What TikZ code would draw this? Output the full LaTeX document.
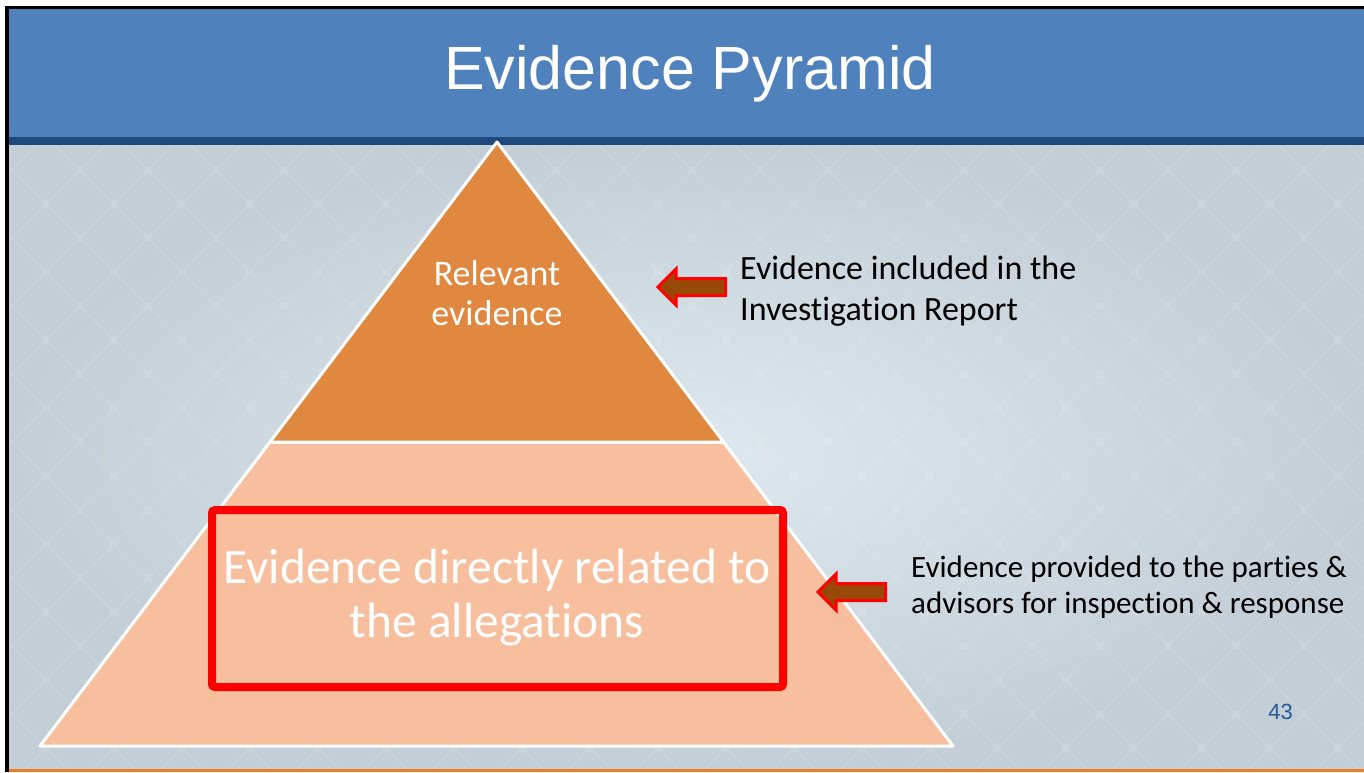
\documentclass[tikz,border=0pt]{standalone}
\usepackage{fontspec}
\setmainfont{Carlito}[Ligatures=NoCommon]
\newfontfamily\titlefont{Liberation Sans}
\usetikzlibrary{calc}
\definecolor{titleblue}{HTML}{4F81BD}
\definecolor{stripeblue}{HTML}{1F497D}
\definecolor{toporange}{HTML}{E0883F}
\definecolor{lowsalmon}{HTML}{F8BF9F}
\definecolor{arrowbrown}{HTML}{984807}
\definecolor{bgpale}{HTML}{DEE8EE}
\definecolor{bgdark}{HTML}{C4CED6}
\definecolor{barorange}{HTML}{F07D22}
\definecolor{numblue}{HTML}{2B5797}

\begin{document}
\begin{tikzpicture}[x=1pt,y=-1pt,
  layer/.style={draw=white,line width=3pt,line join=round},
  blockarr/.style={draw=red,fill=arrowbrown,line width=3pt,line join=miter},
  sidenote/.style={inner sep=0pt,align=left,anchor=west,text=black},
  tiertext/.style={inner sep=0pt,align=center,text=white},
  grid line/.style={white,opacity=.18,line width=.8pt}]
\useasboundingbox (0,0) rectangle (1364,772);
\fill[white] (0,0) rectangle (1364,772);
% slide frame
\fill[black] (5,6) rectangle (1364,9);
\fill[black] (5,6) rectangle (9,772);
\fill[titleblue] (9,9) rectangle (1364,137);
\fill[stripeblue] (9,137) rectangle (1364,145);
\shade[inner color=bgpale,outer color=bgdark] (9,145) rectangle (1364,769);
\fill[barorange] (9,769) rectangle (1364,772);

% lattice
\begin{scope}
\clip (9,145) rectangle (1364,769);
\foreach \k in {-838,-770,...,2222}
{
    \draw[grid line](\k+145,145)--(\k+769,769);
    \draw[grid line](\k-145,145)--(\k-769,769);
}
\foreach \j in {4,6,...,22}
    \foreach \i in {0,2,...,40}
    {
        \draw[grid line](46+34*\i,34*\j) circle(3);
        \draw[grid line](80+34*\i,34+34*\j) circle(3);
    }
\end{scope}

\node[text=white,inner sep=0pt,font=\titlefont\fontsize{61}{61}\selectfont] (title) at (690,74) {Evidence Pyramid};

% pyramid
\coordinate(apex) at (497,142);
\coordinate(bl) at (40,746);
\coordinate(br) at (953,746);
\coordinate(ml) at ($(apex)!.4967!(bl)$);
\coordinate(mr) at ($(apex)!.4967!(br)$);
\draw[layer,fill=lowsalmon](ml)--(mr)--(br)--(bl)--cycle;
\draw[layer,fill=toporange](apex)--(mr)--(ml)--cycle;

\node[draw=red,line width=8pt,rounded corners=3pt,minimum width=571pt,minimum height=177pt,inner sep=0pt] (frame) at (497.5,598.5) {};
\node[tiertext,font=\fontsize{36}{40}\selectfont] (relev) at (497,293) {Relevant\\evidence};
\node[tiertext,font=\fontsize{49.5}{54}\selectfont] (direct) at (497,598) {Evidence directly related to\\the allegations};

% pointers
\foreach \tx/\ty in {658/287,818/592}
    \draw[blockarr](\tx,\ty)--++(18,-18)--++(0,9.5)--++(49.5,0)--++(0,17)--++(-49.5,0)--++(0,9.5)--cycle;

\node[sidenote,font=\fontsize{34}{41}\selectfont] (report) at (740,291.5) {Evidence included in the\\Investigation Report};
\node[sidenote,font=\fontsize{31}{36}\selectfont] (parties) at (911,587.5) {Evidence provided to the parties \&\\advisors for inspection \& response};

\node[text=numblue,inner sep=0pt,font=\titlefont\fontsize{22}{22}\selectfont] (pagenum) at (1280.5,712) {43};
\end{tikzpicture}
\end{document}
